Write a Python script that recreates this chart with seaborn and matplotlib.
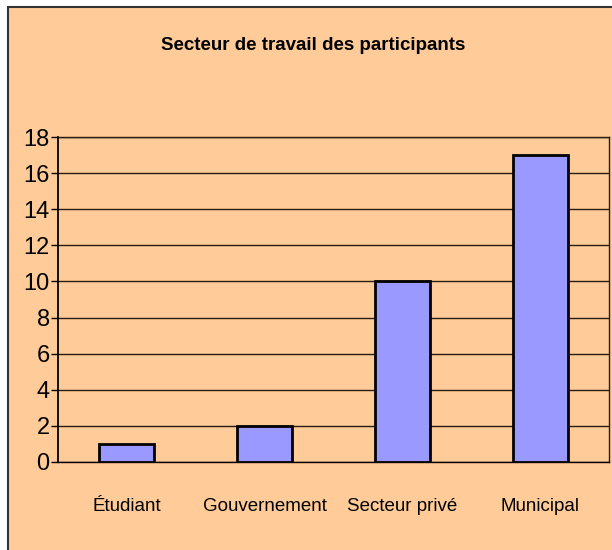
import matplotlib
matplotlib.use("Agg")
import matplotlib.pyplot as plt
from matplotlib.patches import Rectangle
from matplotlib import font_manager
import seaborn as sns
import pandas as pd

categories = ["Étudiant", "Gouvernement", "Secteur privé", "Municipal"]
values = [1, 2, 10, 17]
yticks = [0, 2, 4, 6, 8, 10, 12, 14, 16, 18]
title = "Secteur de travail des participants"

bg = "#FFCC99"
bar_color = "#9999FF"

sns.set_theme(style="white")
names = {f.name for f in font_manager.fontManager.ttflist}
fam = [n for n in ["Liberation Sans Narrow", "Liberation Sans", "DejaVu Sans"] if n in names]
plt.rcParams["font.family"] = fam

W, H = 612, 550
fig = plt.figure(figsize=(W / 100, H / 100), dpi=100, facecolor="white")
fig.patches.append(Rectangle((8 / W, -0.05), 1.2, 1 - 7 / H + 0.05, transform=fig.transFigure,
                             facecolor=bg, edgecolor="#333333", linewidth=1.5, zorder=-10))

ax = fig.add_axes([58 / W, 1 - 462 / H, (609 - 58) / W, (462 - 137) / H])
ax.set_zorder(1)
ax.set_facecolor(bg)
df = pd.DataFrame({"cat": categories, "val": values})
sns.barplot(data=df, x="cat", y="val", ax=ax, color=bar_color, width=0.4,
            edgecolor="black", linewidth=2, saturation=1, zorder=3)
ax.set_ylim(0, 18)
ax.set_xlim(-0.5, 3.5)
ax.set_yticks(yticks)
ax.yaxis.grid(True, color="#2a1a10", linewidth=1)
ax.set_axisbelow(True)
for s in ax.spines.values():
    s.set_visible(True)
    s.set_color("#2a1a10")
    s.set_linewidth(1)
ax.spines["left"].set_color("black")
ax.spines["bottom"].set_color("black")
ax.spines["left"].set_linewidth(1.3)
ax.set_xlabel("")
ax.set_ylabel("")
ax.tick_params(axis="y", which="both", left=True, length=5, width=1, color="black",
               labelsize=17, pad=1, labelcolor="black")
ax.tick_params(axis="x", bottom=False, labelsize=13.5, pad=20, labelcolor="black")
fig.text(313 / W, 1 - 46 / H, title, ha="center", va="center", fontsize=13.5,
         fontweight="bold", color="black")
fig.savefig("out.png", dpi=100, facecolor="white")
